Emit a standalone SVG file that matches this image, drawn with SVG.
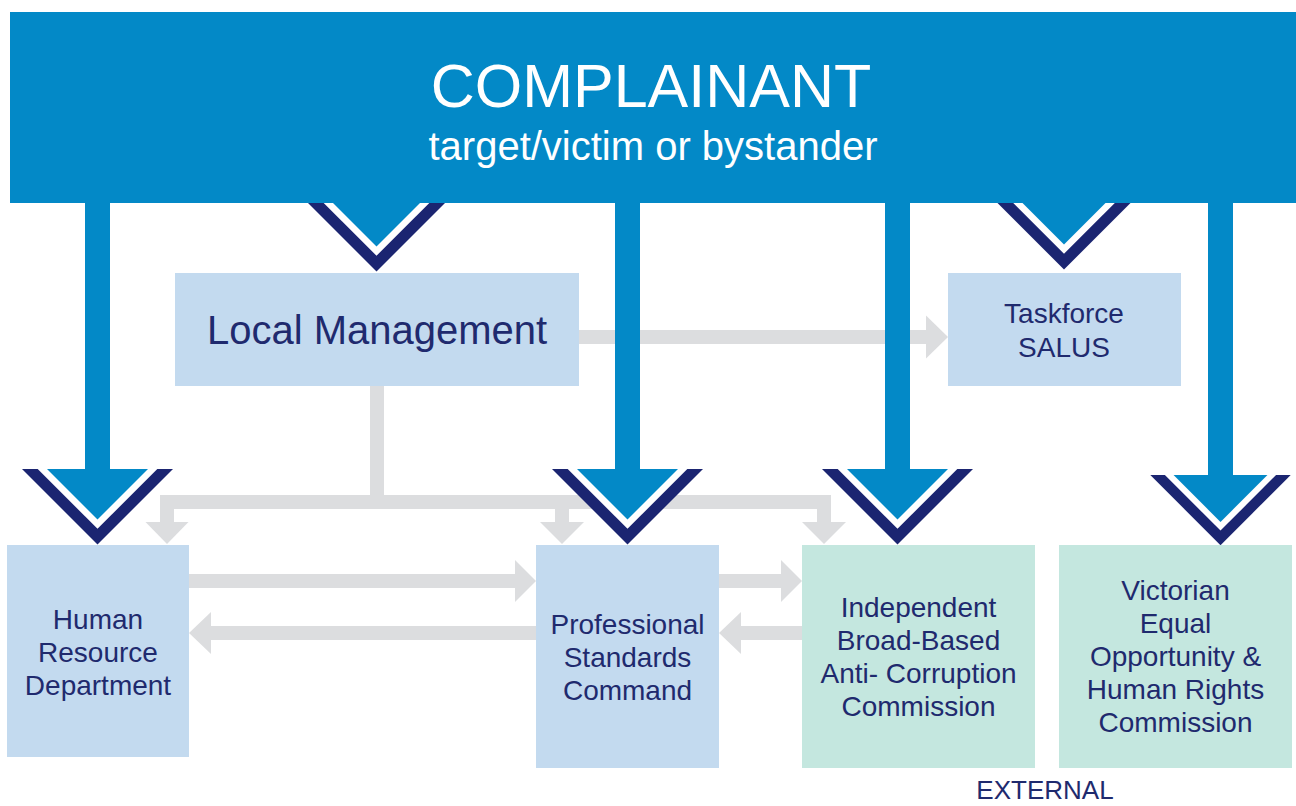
<svg xmlns="http://www.w3.org/2000/svg" xmlns:xlink="http://www.w3.org/1999/xlink" width="1296" height="806" viewBox="0 0 1296 806">
<style>
.blue{fill:#0389c7}
.navy{fill:#1b2571}
.box{fill:#c3daef}
.ext{fill:#c4e7df}
.conn{fill:#dcdddf}
.lbl{font-family:"Liberation Sans",Arial,sans-serif;fill:#1f2a6e;text-anchor:middle}
.wlbl{font-family:"Liberation Sans",Arial,sans-serif;fill:#ffffff;text-anchor:middle}
</style>
<defs>
<g id="chev">
<polygon class="navy" points="-75.5,0 75.5,0 0,75.5"/>
<polygon fill="#ffffff" points="-59.8,0 59.8,0 0,59.8"/>
<polygon class="blue" points="-50.5,0 50.5,0 0,50.5"/>
</g>
</defs>
<rect width="1296" height="806" fill="#ffffff"/>
<g id="connectors">
<rect class="conn" x="579" y="330" width="348" height="14"/>
<polygon class="conn" points="926,315.5 948,337 926,358.5"/>
<rect class="conn" x="370" y="386" width="14" height="123"/>
<rect class="conn" x="160" y="495" width="671" height="14"/>
<rect class="conn" x="160" y="495" width="14" height="28"/>
<polygon class="conn" points="145.5,522 188.5,522 167,544"/>
<rect class="conn" x="555" y="495" width="14" height="28"/>
<polygon class="conn" points="540,522 584,522 562,544"/>
<rect class="conn" x="817" y="495" width="14" height="28"/>
<polygon class="conn" points="802,522 846,522 824,544"/>
<rect class="conn" x="189" y="574" width="327" height="14"/>
<polygon class="conn" points="515,560 536,581 515,602"/>
<rect class="conn" x="210" y="626" width="326" height="14"/>
<polygon class="conn" points="211,612 189,633 211,654"/>
<rect class="conn" x="719" y="574" width="63" height="14"/>
<polygon class="conn" points="781,560 802,581 781,602"/>
<rect class="conn" x="740" y="626" width="62" height="14"/>
<polygon class="conn" points="741,612 719,633 741,654"/>
<use xlink:href="#chev" href="#chev" transform="translate(376.5,196)"/>
<use xlink:href="#chev" href="#chev" transform="translate(1064,194)"/>
<rect class="blue" x="85" y="200" width="25" height="270"/>
<use xlink:href="#chev" href="#chev" transform="translate(97.5,469)"/>
<rect class="blue" x="615" y="200" width="25" height="270"/>
<use xlink:href="#chev" href="#chev" transform="translate(627.5,469)"/>
<rect class="blue" x="885" y="200" width="25" height="270"/>
<use xlink:href="#chev" href="#chev" transform="translate(897.5,469)"/>
<rect class="blue" x="1208" y="200" width="25" height="276"/>
<use xlink:href="#chev" href="#chev" transform="translate(1220.5,475) scale(0.93)"/>
</g>
<g id="complainant">
<rect class="blue" x="10" y="12" width="1286" height="191"/>
<text class="wlbl" x="651" y="107" font-size="61">COMPLAINANT</text>
<text class="wlbl" x="653" y="160" font-size="40">target/victim or bystander</text>
</g>
<g id="local-management">
<rect class="box" x="175" y="273" width="404" height="113"/>
<text class="lbl" x="377" y="344" font-size="40">Local Management</text>
</g>
<g id="taskforce-salus">
<rect class="box" x="948" y="273" width="233" height="113"/>
<text class="lbl" x="1064" y="323" font-size="28">Taskforce</text>
<text class="lbl" x="1064" y="357" font-size="28">SALUS</text>
</g>
<g id="human-resource">
<rect class="box" x="7" y="545" width="182" height="212"/>
<text class="lbl" x="98" y="629" font-size="28">Human</text>
<text class="lbl" x="98" y="662" font-size="28">Resource</text>
<text class="lbl" x="98" y="695" font-size="28">Department</text>
</g>
<g id="professional-standards">
<rect class="box" x="536" y="545" width="183" height="223"/>
<text class="lbl" x="627.5" y="634" font-size="28">Professional</text>
<text class="lbl" x="627.5" y="667" font-size="28">Standards</text>
<text class="lbl" x="627.5" y="700" font-size="28">Command</text>
</g>
<g id="ibac">
<rect class="ext" x="802" y="545" width="233" height="223"/>
<text class="lbl" x="918.5" y="617" font-size="28">Independent</text>
<text class="lbl" x="918.5" y="650" font-size="28">Broad-Based</text>
<text class="lbl" x="918.5" y="683" font-size="28">Anti- Corruption</text>
<text class="lbl" x="918.5" y="716" font-size="28">Commission</text>
</g>
<g id="veohrc">
<rect class="ext" x="1059" y="545" width="233" height="223"/>
<text class="lbl" x="1175.5" y="600" font-size="28">Victorian</text>
<text class="lbl" x="1175.5" y="633" font-size="28">Equal</text>
<text class="lbl" x="1175.5" y="666" font-size="28">Opportunity &amp;</text>
<text class="lbl" x="1175.5" y="699" font-size="28">Human Rights</text>
<text class="lbl" x="1175.5" y="732" font-size="28">Commission</text>
</g>
<g id="external-label">
<text class="lbl" x="1045" y="799" font-size="26">EXTERNAL</text>
</g>
</svg>
